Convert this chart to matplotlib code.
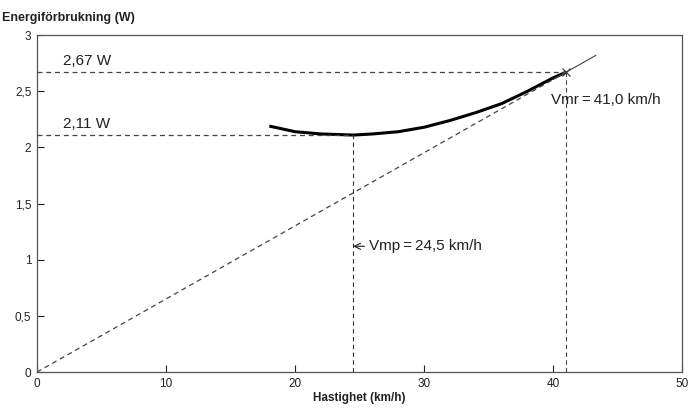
import numpy as np
import matplotlib.pyplot as plt

plt.rcParams['font.family'] = ['Liberation Sans', 'DejaVu Sans']

# Energy curve
speed = [18, 20, 22, 24.5, 26, 28, 30, 32, 34, 36, 38, 40, 41]
power = [2.19, 2.14, 2.12, 2.11, 2.12, 2.14, 2.18, 2.24, 2.31, 2.39, 2.50, 2.62, 2.67]

v_mp, p_mp = 24.5, 2.11
v_mr, p_mr = 41.0, 2.67
line_end = 43.3

x_ticks = [0, 10, 20, 30, 40, 50]
y_ticks = [0, 0.5, 1, 1.5, 2, 2.5, 3]
y_labels = ['0', '0,5', '1', '1,5', '2', '2,5', '3']

fig = plt.figure(figsize=(6.91, 4.08), dpi=100)
ax = fig.add_axes([0.0535, 0.088, 0.934, 0.826])

ax.plot(speed, power, color='black', lw=2.2, solid_capstyle='butt')

# tangent line from origin
slope = p_mr / v_mr
ax.plot([0, v_mr], [0, p_mr], color='#444444', lw=0.9, ls=(0, (4, 3)))
ax.plot([v_mr - 1, line_end], [slope * (v_mr - 1), slope * line_end], color='#444444', lw=0.8)
ax.plot(v_mr, p_mr, marker='x', color='#333333', ms=6, mew=0.8)

# guide lines
ax.plot([0, v_mr], [p_mr, p_mr], color='#444444', lw=0.9, ls=(0, (4, 3)))
ax.plot([v_mr, v_mr], [0, p_mr], color='#444444', lw=0.8, ls=(0, (4, 3)))
ax.plot([0, v_mp], [p_mp, p_mp], color='#444444', lw=0.9, ls=(0, (4, 3)))
ax.plot([v_mp, v_mp], [0, p_mp], color='#333333', lw=0.8, ls=(0, (4, 3)))

ax.text(2.0, p_mr + 0.04, '2,67 W', fontsize=11, color='#222222', va='bottom')
ax.text(2.0, p_mp + 0.04, '2,11 W', fontsize=11, color='#222222', va='bottom')
ax.text(v_mr - 1.2, 2.36, 'Vmr\u2009=\u200941,0 km/h', fontsize=11, color='#222222', va='bottom')
ax.annotate('Vmp\u2009=\u200924,5 km/h', xy=(v_mp, 1.12), xytext=(25.7, 1.12),
            fontsize=11, color='#222222', va='center',
            arrowprops=dict(arrowstyle='->', color='#222222', lw=0.8,
                            shrinkA=1, shrinkB=0))

ax.set_xlim(0, 50)
ax.set_ylim(0, 3)
ax.set_xticks(x_ticks)
ax.set_yticks(y_ticks)
ax.set_yticklabels(y_labels)
ax.tick_params(direction='in', length=5, width=0.8, labelsize=8.5, colors='#222222', pad=4)
for s in ax.spines.values():
    s.set_color('#555555')
    s.set_linewidth(0.9)

ax.set_xlabel('Hastighet (km/h)', fontsize=8.5, fontweight='bold', color='#222222', labelpad=2)
fig.text(0.003, 0.955, 'Energiförbrukning (W)', fontsize=9, fontweight='bold',
         color='#222222', va='center')

fig.savefig('out.png', dpi=100)
